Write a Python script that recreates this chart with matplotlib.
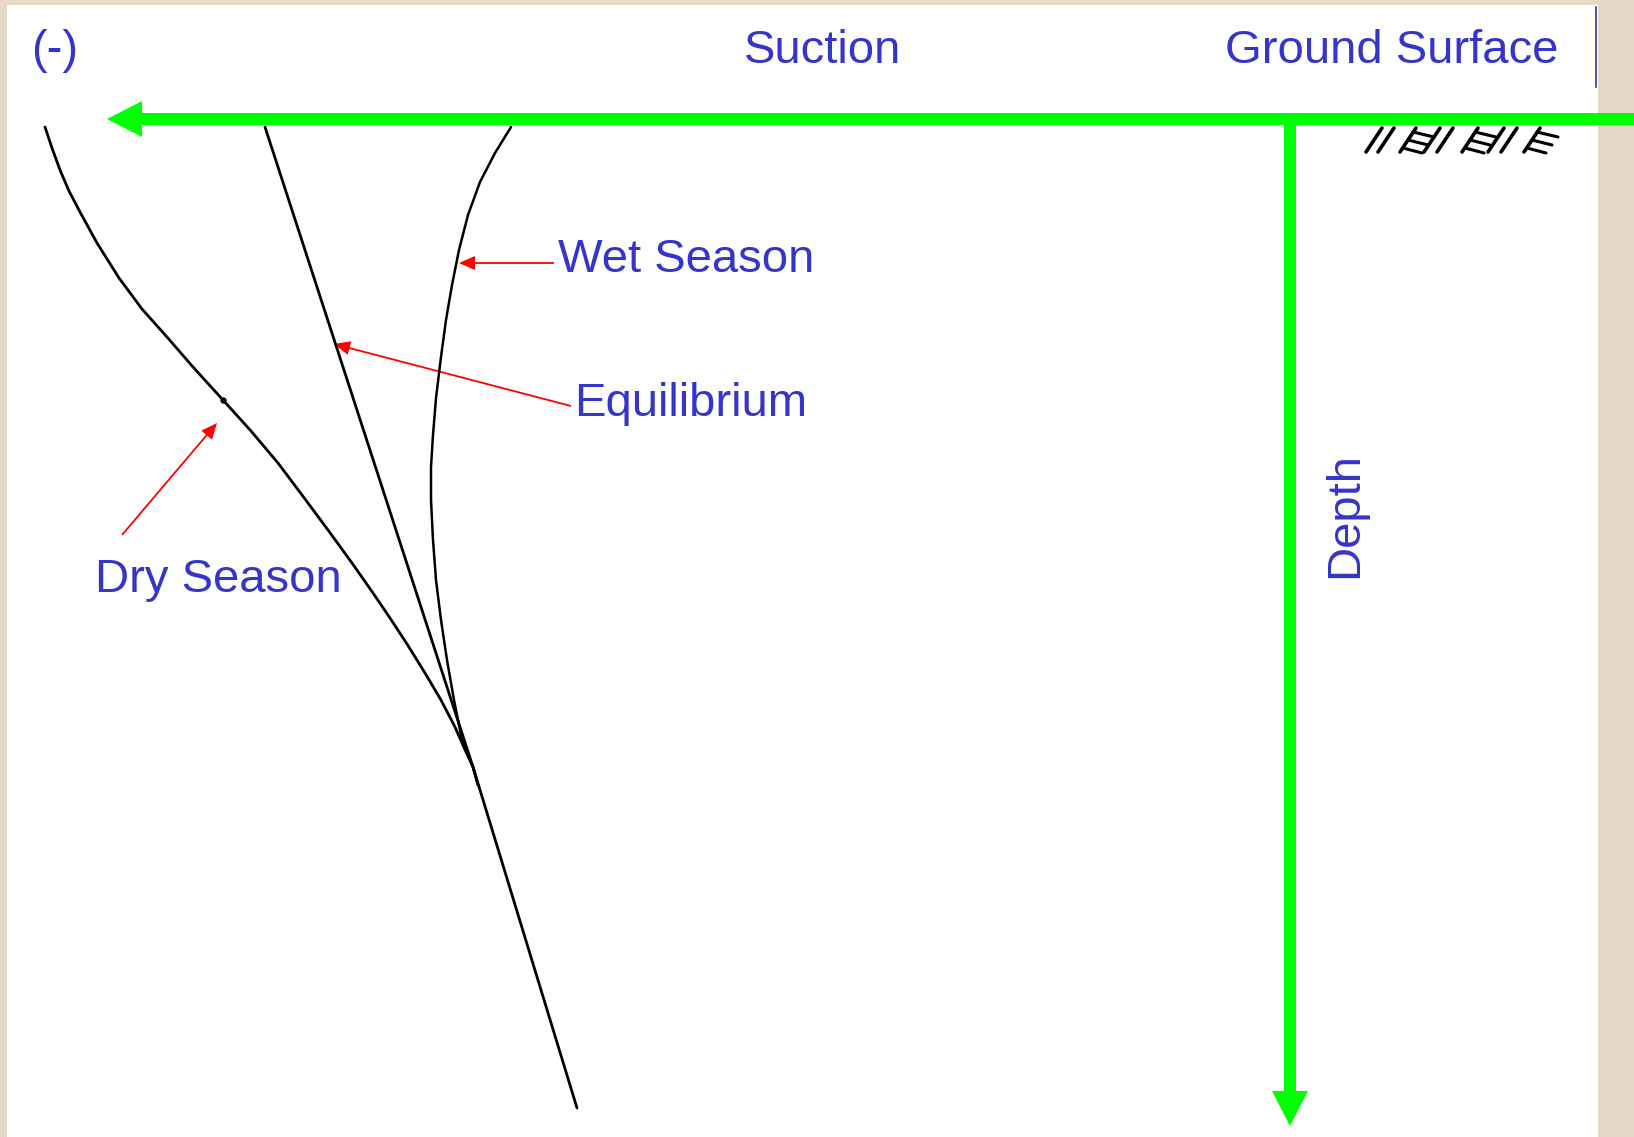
import matplotlib.pyplot as plt
from matplotlib.patches import Rectangle

# soil suction profiles (x = suction, y = depth, in picture units)
dry_x = [45, 52, 60, 69, 80, 97, 119, 142, 167, 193, 223, 251, 278, 305, 328, 352, 373, 390, 407, 425, 441, 455, 466, 473, 478]
dry_y = [127, 148, 170, 191, 212, 243, 278, 309, 337, 367, 400, 431, 463, 499, 530, 563, 593, 618, 644, 673, 700, 727, 752, 767, 785]

wet_x = [511, 495, 480, 468, 459, 452, 446, 441, 436, 433, 431, 431, 433, 436, 441, 447, 454, 462, 473, 478]
wet_y = [127, 153, 182, 215, 250, 285, 320, 357, 398, 435, 467, 500, 540, 580, 620, 660, 700, 740, 767, 785]

eq_x = [265, 473, 577]
eq_y = [127, 767, 1108]

# hatching under the ground surface mark
hatch_x0 = [1366, 1378, 1400, 1424, 1437, 1462, 1488, 1501, 1524]
hatch_ticks = [False, False, True, False, False, True, False, False, True]

labels = ['(-)', 'Suction', 'Ground Surface', 'Wet Season', 'Equilibrium', 'Dry Season']
label_x = [31, 744, 1225, 558, 574, 95]
label_y = [63, 63, 63, 272, 416, 592]

blue = '#3535CC'
green = '#00FF00'

plt.rcParams['font.family'] = ['Liberation Sans', 'DejaVu Sans']

fig = plt.figure(figsize=(16.34, 11.37), dpi=100)
fig.patch.set_facecolor('#E3D9C6')
ax = fig.add_axes([0, 0, 1, 1])
ax.set_xlim(0, 1634)
ax.set_ylim(1137, 0)
ax.axis('off')

ax.add_patch(Rectangle((7, 5), 1591, 1140, facecolor='white', edgecolor='none'))
ax.plot([1596, 1596], [7, 87], color='#333399', lw=1.2)

# curves
ax.plot(dry_x, dry_y, color='black', lw=2.0, solid_capstyle='round', solid_joinstyle='round')
ax.plot(wet_x, wet_y, color='black', lw=1.8, solid_capstyle='round', solid_joinstyle='round')
ax.plot(eq_x, eq_y, color='black', lw=2.0, solid_capstyle='round', solid_joinstyle='round')
ax.plot([223], [400], 'o', color='black', ms=3.5)

# axes arrows
ax.arrow(1640, 119, 107 - 1640, 0, width=12, head_width=36, head_length=35,
         length_includes_head=True, color=green, lw=0)
ax.arrow(1290, 113, 0, 1126 - 113, width=12, head_width=36, head_length=35,
         length_includes_head=True, color=green, lw=0)

# pointers
pointers = [((554, 263), (459, 263)), ((571, 406), (334, 344)), ((122, 535), (217, 423))]
for (x0, y0), (x1, y1) in pointers:
    ax.arrow(x0, y0, x1 - x0, y1 - y0, width=1.8, head_width=14, head_length=16,
             length_includes_head=True, color='red', lw=0)

# ground hatching
for x0, tick in zip(hatch_x0, hatch_ticks):
    ax.plot([x0, x0 + 16], [152, 128], color='black', lw=2.6, solid_capstyle='round')
    if tick:
        ax.plot([x0 + 13, x0 + 34], [132, 137], color='black', lw=2.2, solid_capstyle='round')
        ax.plot([x0 + 8, x0 + 28], [140, 145], color='black', lw=2.2, solid_capstyle='round')
        ax.plot([x0 + 3, x0 + 22], [148, 153], color='black', lw=2.2, solid_capstyle='round')

for txt, x, y in zip(labels, label_x, label_y):
    ax.text(x, y, txt, color=blue, fontsize=34, ha='left', va='baseline')
ax.text(1345, 515, 'Depth', color=blue, fontsize=34, rotation=90, ha='center', va='center')

fig.savefig('out.png', dpi=100, facecolor=fig.get_facecolor())
